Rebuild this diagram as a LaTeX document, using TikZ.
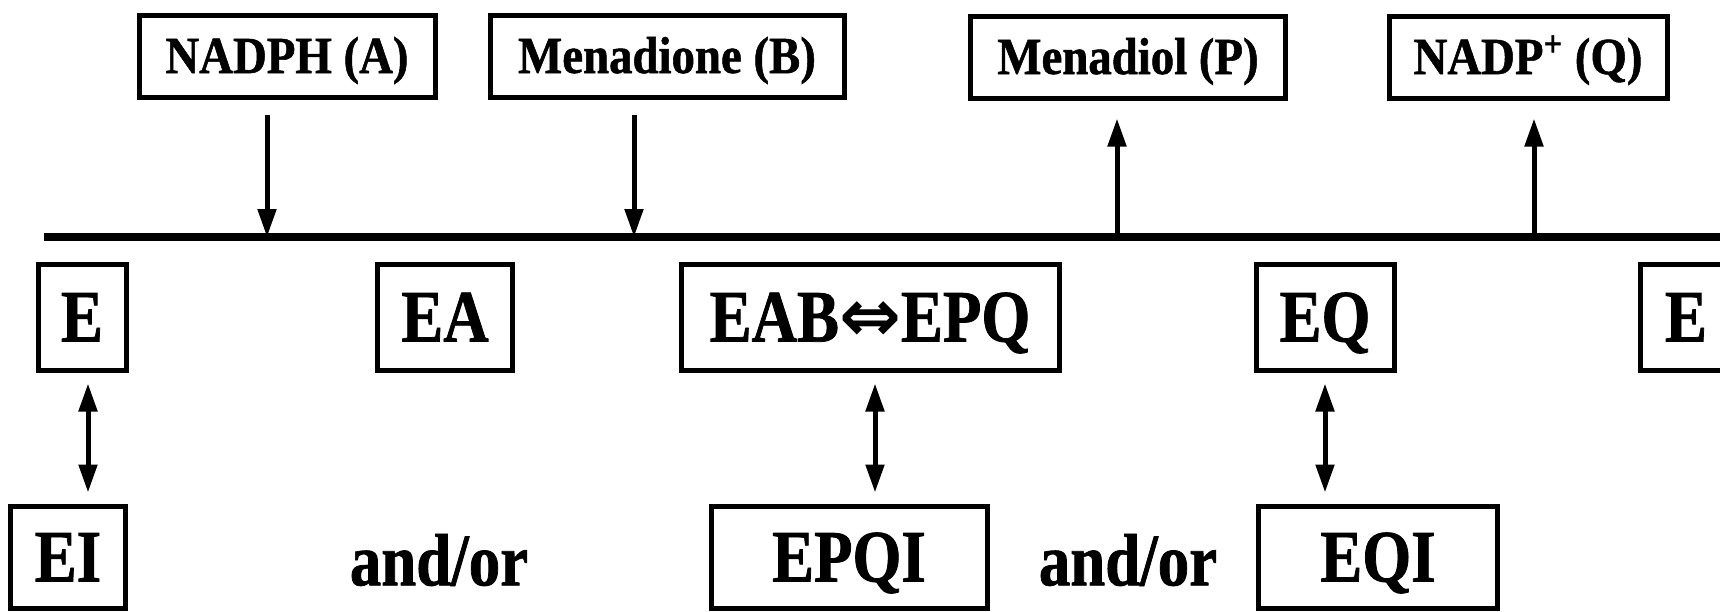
\documentclass[tikz,border=0pt]{standalone}
\usepackage{fontspec}
\setmainfont{Liberation Serif}[FakeStretch=0.9, BoldFeatures={FakeBold=1}]
\newfontfamily\bigfont{Liberation Serif}[FakeStretch=0.85, BoldFeatures={FakeBold=1}]
\newfontfamily\arrowfont{DejaVu Sans}
\usetikzlibrary{arrows.meta}

\begin{document}
\begin{tikzpicture}[
        x=0.5pt, y=-0.5pt,
        >={Triangle[length=14pt,width=9pt]},
        box/.style={draw, line width=2.5pt, inner sep=0pt, minimum height=53pt,
            text height=24.5pt, text depth=0pt,
            font=\bigfont\bfseries\fontsize{37}{42}\selectfont},
        sub/.style={box, minimum height=41pt, text height=17pt,
            font=\bfseries\fontsize{26}{30}\selectfont},
        joint/.style={font=\bigfont\bfseries\fontsize{37}{42}\selectfont},
        flow/.style={->, line width=2.5pt},
        swap/.style={<->, line width=2.5pt, shorten <=5.5pt, shorten >=5.5pt},
        ]
        \useasboundingbox (0,0) rectangle (1720,611);
        \clip (0,0) rectangle (1720,611);
        \fill[white] (0,0) rectangle (1720,611);

        % Substrates and products
        \node[sub, minimum width=148pt] (nadph) at (287,56) {NADPH (A)};
        \node[sub, minimum width=177pt] (mena) at (667,56) {Menadione (B)};
        \node[sub, minimum width=157.5pt] (diol) at (1128,57) {Menadiol (P)};
        \node[sub, minimum width=139pt] (nadp) at (1528,57) {NADP\textsuperscript{+} (Q)};

        % Reaction line
        \coordinate (start) at (44,237);
        \coordinate (end) at (1740,237);
        \draw[line width=4pt] (start) -- (end);
        \coordinate (inA) at (267,237);
        \coordinate (inB) at (634,237);
        \coordinate (outP) at (1117,237);
        \coordinate (outQ) at (1534,237);

        \draw[flow, shorten <=7.5pt] (nadph.south -| inA) -- (inA);
        \draw[flow, shorten <=7.5pt] (mena.south -| inB) -- (inB);
        \draw[flow, shorten >=9pt] (outP) -- (diol.south -| outP);
        \draw[flow, shorten >=9pt] (outQ) -- (nadp.south -| outQ);

        % Enzyme forms
        \node[box, minimum width=44pt] (e) at (82,317) {E};
        \node[box, minimum width=67.5pt] (ea) at (445,317) {EA};
        \node[box, minimum width=189pt] (eab) at (870,317) {EAB{\arrowfont ⇔}EPQ};
        \node[box, minimum width=69pt] (eq) at (1325,317) {EQ};
        \node[box, minimum width=46pt] (e2) at (1686,317) {E};

        % Inhibitor complexes
        \node[box, minimum width=57.5pt, minimum height=51pt] (ei) at (68,557) {EI};
        \node[joint] (or1) at (439,560) {and/or};
        \node[box, minimum width=138pt, minimum height=51pt] (epqi) at (849,557) {EPQI};
        \node[joint] (or2) at (1128,560) {and/or};
        \node[box, minimum width=119.5pt, minimum height=51pt] (eqi) at (1378,557) {EQI};

        \draw[swap, transform canvas={xshift=3pt}] (e.south) -- (e.south |- ei.north);
        \draw[swap, transform canvas={xshift=2.5pt}] (eab.south) -- (eab.south |- epqi.north);
        \draw[swap] (eq.south) -- (eq.south |- eqi.north);

    \end{tikzpicture}
\end{document}
